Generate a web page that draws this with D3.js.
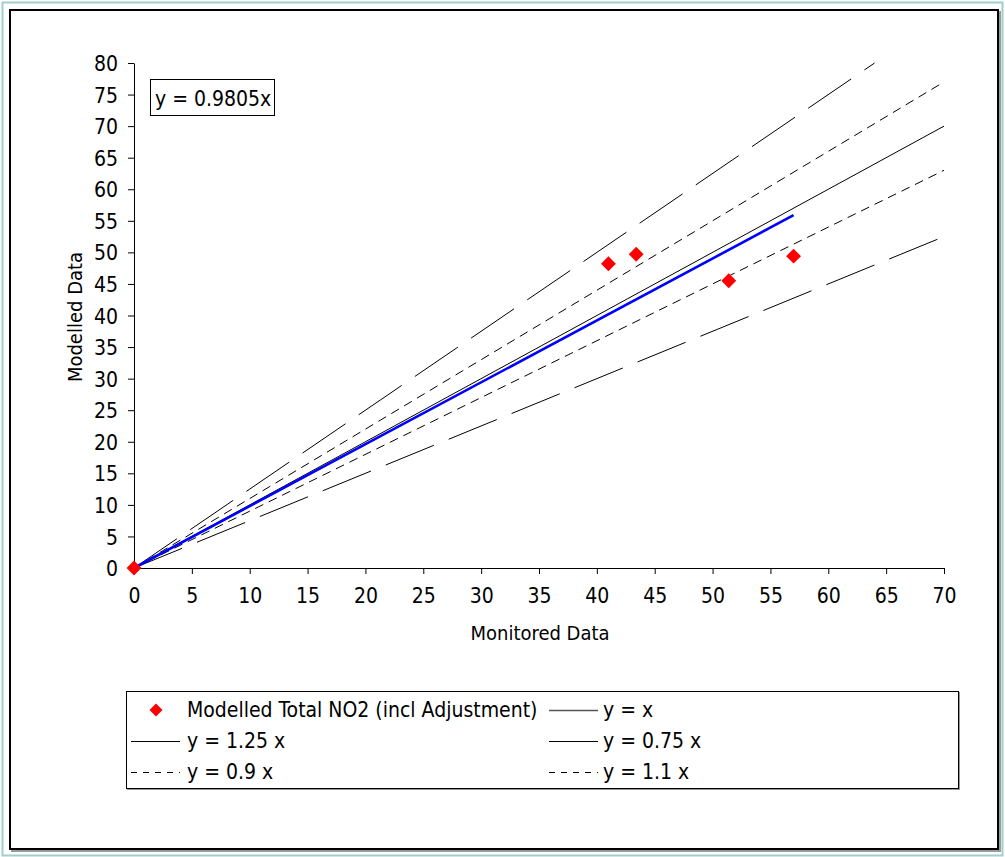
<!DOCTYPE html>
<html>
<head>
<meta charset="utf-8">
<script src="https://cdn.jsdelivr.net/npm/d3@7"></script>
<style>
  html, body { margin: 0; padding: 0; background: #fff; }
  svg text { font-family: "DejaVu Sans Condensed", "DejaVu Sans", sans-serif; font-stretch: condensed; fill: #000; }
</style>
</head>
<body>
<svg id="chart" width="1005" height="857"></svg>
<script>
// ---- data ----
const monitored = [0, 41.0, 43.4, 51.4, 57.0];
const modelled  = [0, 48.2, 49.7, 45.5, 49.4];
const refSlopes = [1, 1.25, 0.75, 0.9, 1.1];
const refLabels = ["y = x", "y = 1.25 x", "y = 0.75 x", "y = 0.9 x", "y = 1.1 x"];
const trendSlope = 0.9805;
const trendRange = [0, 57];
const xTicks = [0, 5, 10, 15, 20, 25, 30, 35, 40, 45, 50, 55, 60, 65, 70];
const yTicks = [0, 5, 10, 15, 20, 25, 30, 35, 40, 45, 50, 55, 60, 65, 70, 75, 80];
const seriesLabel = "Modelled Total NO2 (incl Adjustment)";
const equationLabel = "y = 0.9805x";
const xTitle = "Monitored Data";
const yTitle = "Modelled Data";

// ---- styles ----
const chartDash = { "y = x": null, "y = 1.25 x": "52,16", "y = 0.75 x": "52,16", "y = 0.9 x": "9,6", "y = 1.1 x": "9,6" };
const legendDash = { "y = x": null, "y = 1.25 x": null, "y = 0.75 x": null, "y = 0.9 x": "6,6", "y = 1.1 x": "6,6" };

const svg = d3.select("#chart");
const FS = 20;
const LFS = 21;

// frames
svg.append("rect").attr("x", 2.5).attr("y", 2.5).attr("width", 1000).attr("height", 853)
  .attr("fill", "none").attr("stroke", "#9fcfcb").attr("stroke-width", 2);
svg.append("rect").attr("x", 12).attr("y", 12).attr("width", 988).attr("height", 839)
  .attr("fill", "none").attr("stroke", "#9a9a9a").attr("stroke-width", 2);
svg.append("rect").attr("x", 10).attr("y", 10).attr("width", 988).attr("height", 839)
  .attr("fill", "#fff").attr("stroke", "#000").attr("stroke-width", 2);

const x = d3.scaleLinear().domain([0, 70]).range([134, 944]);
const y = d3.scaleLinear().domain([0, 80]).range([568, 63]);

// axes
const xAxis = svg.append("g").attr("transform", `translate(0,${y(0)})`)
  .call(d3.axisBottom(x).tickValues(xTicks).tickSize(6).tickSizeOuter(0).tickPadding(14));
const yAxis = svg.append("g").attr("transform", `translate(${x(0)},0)`)
  .call(d3.axisLeft(y).tickValues(yTicks).tickSize(6).tickSizeOuter(0).tickPadding(10));
[xAxis, yAxis].forEach(g => {
  g.selectAll("path,line").attr("stroke", "#000").attr("stroke-width", 1);
  g.selectAll("text").style("font-size", LFS + "px").attr("fill", "#000");
  g.attr("font-family", null).attr("font-size", null);
});
yAxis.selectAll("text").attr("dy", "0.36em");
xAxis.selectAll("text").attr("dy", "0.7em");

// reference lines
const line = d3.line().x(d => x(d[0])).y(d => y(d[1]));
refSlopes.forEach((s, i) => {
  const xEnd = Math.min(70, 80 / s);
  svg.append("path").datum([[0, 0], [xEnd, s * xEnd]])
    .attr("d", line).attr("fill", "none").attr("stroke", "#000").attr("stroke-width", 1)
    .attr("stroke-dasharray", chartDash[refLabels[i]]);
});

// trend line
svg.append("path").datum(trendRange.map(v => [v, trendSlope * v]))
  .attr("d", line).attr("fill", "none").attr("stroke", "#0000ff").attr("stroke-width", 2.6);

// points
const diamond = d3.symbol().type(d3.symbolSquare).size(110);
svg.selectAll(".pt").data(monitored.map((m, i) => [m, modelled[i]])).enter()
  .append("path").attr("class", "pt").attr("d", diamond)
  .attr("transform", d => `translate(${x(d[0])},${y(d[1])}) rotate(45)`)
  .attr("fill", "#ff0000");

// equation box
svg.append("rect").attr("x", 150.5).attr("y", 79.5).attr("width", 124).attr("height", 36)
  .attr("fill", "#fff").attr("stroke", "#000").attr("stroke-width", 1);
svg.append("text").attr("x", 155).attr("y", 106).style("font-size", LFS + "px").text(equationLabel);

// axis titles
svg.append("text").attr("x", 540).attr("y", 640).attr("text-anchor", "middle")
  .style("font-size", FS + "px").text(xTitle);
svg.append("text").attr("transform", "translate(82,317) rotate(-90)").attr("text-anchor", "middle")
  .style("font-size", FS + "px").text(yTitle);

// legend
svg.append("rect").attr("x", 127.5).attr("y", 692.5).attr("width", 832).attr("height", 97)
  .attr("fill", "none").attr("stroke", "#9a9a9a").attr("stroke-width", 1);
svg.append("rect").attr("x", 126.5).attr("y", 691.5).attr("width", 832).attr("height", 97)
  .attr("fill", "#fff").attr("stroke", "#000").attr("stroke-width", 1);

const rowY = [710, 741, 772];
const colLine = [[131, 180], [549, 598]];
const colText = [187, 603];
// series entry
svg.append("path").attr("d", d3.symbol().type(d3.symbolSquare).size(85))
  .attr("transform", `translate(156,${rowY[0]}) rotate(45)`).attr("fill", "#ff0000");
svg.append("text").attr("x", colText[0]).attr("y", rowY[0] + 7).style("font-size", LFS + "px").text(seriesLabel);
// line entries: order y=x (r0 c1), 1.25 (r1 c0), 0.75 (r1 c1), 0.9 (r2 c0), 1.1 (r2 c1)
const slots = [[0, 1], [1, 0], [1, 1], [2, 0], [2, 1]];
refLabels.forEach((lab, i) => {
  const [r, c] = slots[i];
  svg.append("line").attr("x1", colLine[c][0]).attr("x2", colLine[c][1])
    .attr("y1", rowY[r] + 0.5).attr("y2", rowY[r] + 0.5)
    .attr("stroke", i === 0 ? "#555" : "#000").attr("stroke-width", i === 0 ? 1.5 : 1)
    .attr("stroke-dasharray", legendDash[lab]);
  svg.append("text").attr("x", colText[c]).attr("y", rowY[r] + 7).style("font-size", LFS + "px").text(lab);
});
</script>
</body>
</html>
